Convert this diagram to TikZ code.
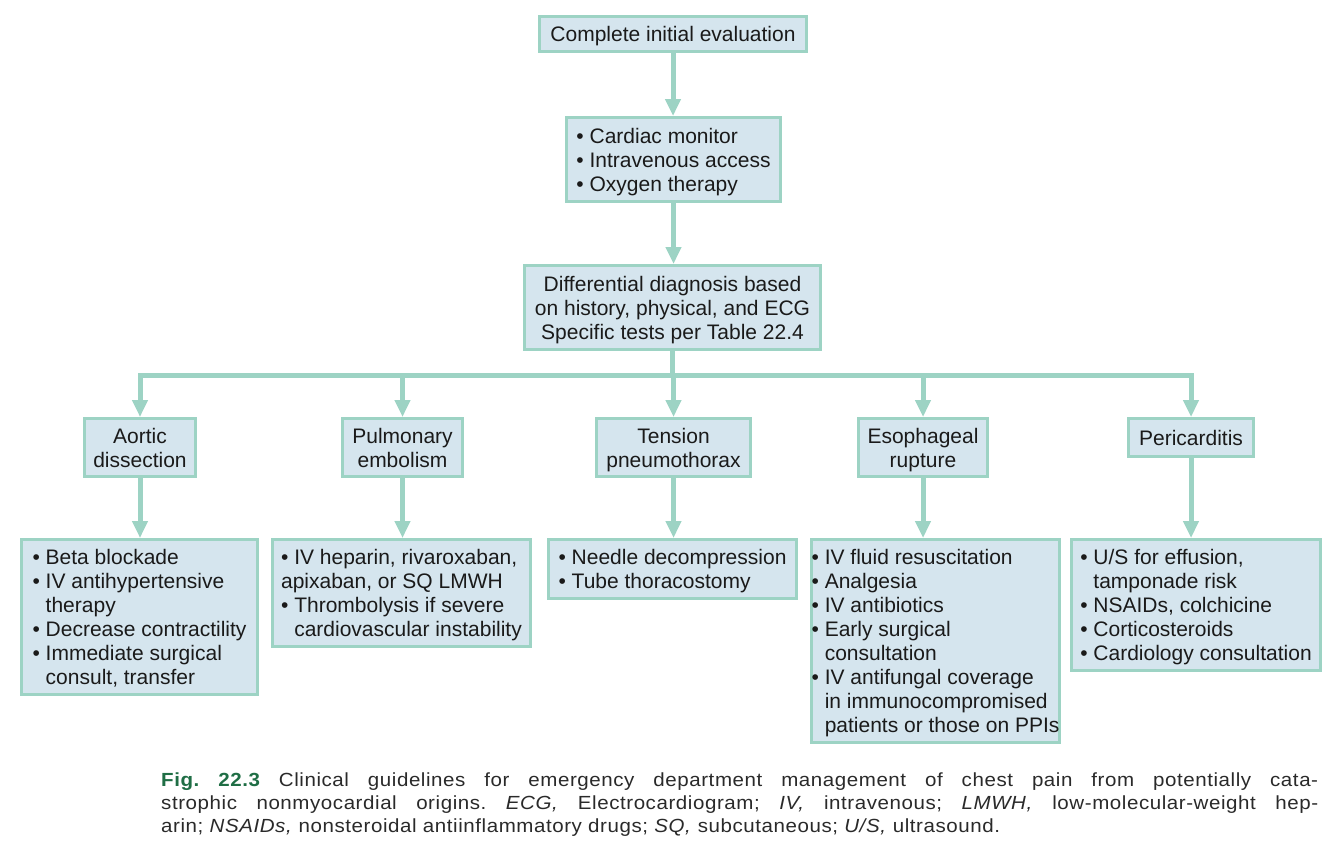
\documentclass[tikz,border=0pt]{standalone}
\usepackage{fontspec}
\setmainfont{Liberation Sans}
\newfontfamily\capfont[FakeStretch=1.08,LetterSpace=3]{Liberation Sans}
\usetikzlibrary{arrows.meta}
\definecolor{boxfill}{HTML}{D5E5EE}
\definecolor{tealline}{HTML}{9DD3C4}
\definecolor{figgreen}{HTML}{1F6E45}
\definecolor{txt}{HTML}{1A1A1A}
\definecolor{captxt}{HTML}{2A2A2A}
\newcommand{\bl}{\textbullet\ }
\newcommand{\hi}{\phantom{\textbullet\ }}
\newcommand{\ts}{\rule{0pt}{20.2pt}}
\newcommand{\te}{\rule[-5pt]{0pt}{5pt}}
\begin{document}
\begin{tikzpicture}[x=1pt,y=-1pt,
  box/.style={draw=tealline, line width=3pt, fill=boxfill, inner sep=0pt,
    font=\fontsize{21}{24}\selectfont, text=txt},
  lbox/.style={box, align=left},
  cbox/.style={box, align=center},
  conn/.style={draw=tealline, line width=5pt, line cap=butt,
    -{Triangle[width=15pt,length=17pt]}},
  bus/.style={draw=tealline, line width=5pt, line cap=butt, line join=miter,
    {Triangle[width=15pt,length=17pt]}-{Triangle[width=15pt,length=17pt]}},
  plain/.style={draw=tealline, line width=5pt, line cap=butt}]
\useasboundingbox (0,0) rectangle (1343,851);
\fill[white] (0,0) rectangle (1343,851);

\node[cbox, minimum width=267pt, minimum height=35pt] (n1) at (673,34) {\ts Complete initial evaluation\te};
\node[lbox, minimum width=214pt, minimum height=84pt] (n2) at (673.5,159.5) {\ts\bl Cardiac monitor\\\bl Intravenous access\\\bl Oxygen therapy\te};
\node[cbox, minimum width=296pt, minimum height=84pt] (n3) at (672.5,307.5) {\ts Differential diagnosis based\\on history, physical, and ECG\\Specific tests per Table 22.4\te};

\coordinate (busc) at (673,375);

\node[cbox, minimum width=111pt, minimum height=58pt] (a1) at (140,447.5) {\ts Aortic\\dissection\te};
\node[cbox, minimum width=120pt, minimum height=58pt] (p1) at (402.5,447.5) {\ts Pulmonary\\embolism\te};
\node[cbox, minimum width=154pt, minimum height=58pt] (t1) at (673.5,447.5) {\ts Tension\\pneumothorax\te};
\node[cbox, minimum width=129pt, minimum height=58pt] (e1) at (923,447.5) {\ts Esophageal\\rupture\te};
\node[cbox, minimum width=125pt, minimum height=38pt] (c1) at (1191,437.5) {\ts Pericarditis\te};

\node[lbox, minimum width=236pt, minimum height=155pt] (a2) at (139.5,617) {\ts\bl Beta blockade\\\bl IV antihypertensive\\\hi therapy\\\bl Decrease contractility\\\bl Immediate surgical\\\hi consult, transfer\te};
\node[lbox, minimum width=258pt, minimum height=107pt] (p2) at (401.5,593) {\ts\bl IV heparin, rivaroxaban,\\apixaban, or SQ LMWH\\\bl Thrombolysis if severe\\\hi cardiovascular instability\te};
\node[lbox, minimum width=248pt, minimum height=59pt] (t2) at (672.5,569) {\ts\bl Needle decompression\\\bl Tube thoracostomy\te};
\node[lbox, minimum width=246pt, minimum height=203pt] (e2) at (935.5,641) {\ts\bl IV fluid resuscitation\\\bl Analgesia\\\bl IV antibiotics\\\bl Early surgical\\\hi consultation\\\bl IV antifungal coverage\\\hi in immunocompromised\\\hi patients or those on PPIs\te};
\node[lbox, minimum width=249pt, minimum height=131pt] (c2) at (1196,605) {\ts\bl U/S for effusion,\\\hi tamponade risk\\\bl NSAIDs, colchicine\\\bl Corticosteroids\\\bl Cardiology consultation\te};

\draw[conn] (n1.south) -- (n1.south |- n2.north);
\draw[conn] (n2.south) -- (n2.south |- n3.north);
\draw[plain] (n3.south) -- (n3.south |- busc);
\draw[bus] (a1.north) -- (a1.north |- busc) -- (c1.north |- busc) -- (c1.north);
\draw[conn] (p1.north |- busc) -- (p1.north);
\draw[conn] (t1.north |- busc) -- (t1.north);
\draw[conn] (e1.north |- busc) -- (e1.north);

\draw[conn] (a1.south) -- (a1.south |- a2.north);
\draw[conn] (p1.south) -- (p1.south |- p2.north);
\draw[conn] (t1.south) -- (t1.south |- t2.north);
\draw[conn] (e1.south) -- (e1.south |- e2.north);
\draw[conn] (c1.south) -- (c1.south |- c2.north);

\node[anchor=base west, inner sep=0pt, text=captxt,
  font=\capfont\fontsize{19}{23}\selectfont] (cap) at (161,773)
  {\parbox[t]{1157pt}{\frenchspacing\hyphenpenalty=10000\exhyphenpenalty=10000
  {\color{figgreen}\bfseries Fig.~22.3}\ Clinical guidelines for emergency department management of chest pain from potentially cata-\linebreak
  strophic nonmyocardial origins. \textit{ECG,} Electrocardiogram; \textit{IV,} intravenous; \textit{LMWH,} low-molecular-weight hep-\linebreak
  arin; \textit{NSAIDs,} nonsteroidal antiinflammatory drugs; \textit{SQ,} subcutaneous; \textit{U/S,} ultrasound.}};
\end{tikzpicture}
\end{document}
